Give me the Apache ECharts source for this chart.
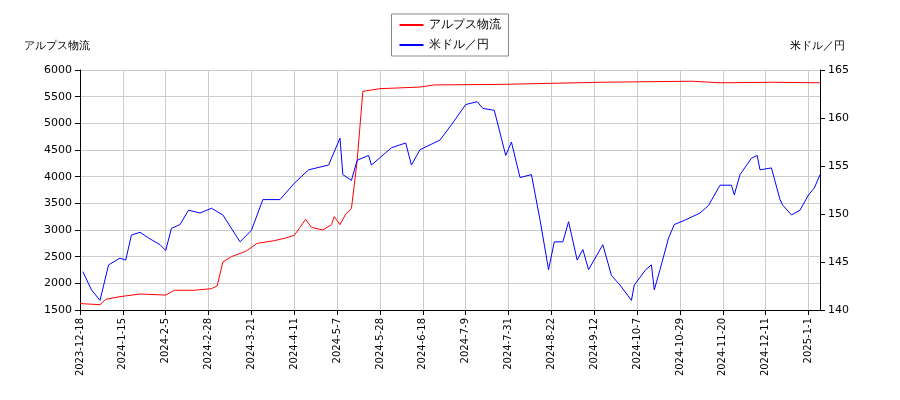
<!DOCTYPE html><html><head><meta charset="utf-8">
<script src="https://cdn.jsdelivr.net/npm/echarts@6/dist/echarts.min.js"></script>
<style>body{margin:0}#c{width:900px;height:400px}</style></head><body><div id="c"></div>
<script>
const startDate = '2023-12-18';
const marketHolidays = ['2024-01-01','2024-01-02','2024-01-03','2024-01-08','2024-02-12','2024-02-23','2024-03-20','2024-04-29','2024-05-03','2024-05-06','2024-07-15','2024-08-12','2024-09-16','2024-09-23','2024-10-14','2024-11-04','2024-11-04','2024-11-04','2023-12-29','2023-12-30'];
const extraHolidays = ['2023-12-31','2024-11-04'];
const alpsIdx = [0,7,9,14,21,30,33,40,46,48,50,53,58,62,68,72,75,77,79,81,85,88,89,91,93,95,97,99,105,119,124,147,165,182,214,224,242,259];
const alpsVals = [1620,1600,1700,1750,1800,1780,1870,1870,1900,1950,2400,2500,2600,2750,2800,2850,2900,3050,3200,3050,3000,3100,3250,3100,3300,3400,4300,5600,5650,5680,5720,5730,5750,5770,5790,5760,5770,5760];
const usdIdx = [1,4,7,10,14,16,18,21,24,28,30,32,35,38,42,46,50,56,60,64,70,75,80,87,91,92,95,97,101,102,109,114,116,119,126,130,135,139,141,145,149,151,154,158,161,164,166,169,171,174,176,178,183,186,189,193,194,198,200,201,203,206,208,212,217,220,224,228,229,231,235,237,238,242,245,246,249,252,255,257,259];
const usdVals = [144.0,142.1,141.0,144.7,145.4,145.2,147.8,148.1,147.5,146.8,146.2,148.5,148.9,150.4,150.1,150.6,149.9,147.1,148.3,151.5,151.5,153.2,154.6,155.1,157.9,154.1,153.5,155.6,156.1,155.1,156.9,157.4,155.1,156.7,157.7,159.3,161.4,161.7,161.0,160.8,156.1,157.5,153.8,154.1,149.4,144.2,147.1,147.1,149.2,145.2,146.3,144.2,146.8,143.6,142.6,141.0,142.6,144.2,144.7,142.1,144.2,147.5,148.9,149.4,150.1,150.9,153.0,153.0,152.0,154.1,155.8,156.1,154.6,154.8,151.5,150.9,149.9,150.4,152.0,152.7,154.1];
// trading calendar
const hol = new Set(marketHolidays.concat(extraHolidays));
const tradingDays = [];
for (let t = Date.parse(startDate+'T00:00:00Z'); tradingDays.length < 300; t += 86400000) {
  const d = new Date(t), wd = d.getUTCDay();
  const iso = d.toISOString().slice(0,10);
  if (wd === 0 || wd === 6 || hol.has(iso)) continue;
  tradingDays.push(d.getUTCFullYear()+'-'+(d.getUTCMonth()+1)+'-'+d.getUTCDate());
}
const ch = echarts.init(document.getElementById('c'));
ch.setOption({
  animation:false,
  textStyle:{fontFamily:'DejaVu Sans'},
  legend:{top:14,left:'center',orient:'vertical',itemWidth:24,itemHeight:2,borderColor:'#888',borderWidth:1,padding:[5,8],textStyle:{fontSize:12,color:'#000'},
    data:[{name:'アルプス物流',icon:'rect'},{name:'米ドル／円',icon:'rect'}]},
  grid:{left:80,right:80,top:70,bottom:90},
  xAxis:{type:'value',min:0,max:259,interval:15,
    axisLabel:{rotate:90,formatter:v=>tradingDays[v],fontSize:10,color:'#000',showMaxLabel:false},
    axisLine:{lineStyle:{color:'#000'}},axisTick:{lineStyle:{color:'#000'}},
    splitLine:{lineStyle:{color:'#ccc'}}},
  yAxis:[{type:'value',min:1500,max:6000,interval:500,name:'アルプス物流',nameLocation:'end',nameGap:18,
      nameTextStyle:{align:'right',color:'#000',fontSize:11,padding:[0,-10,0,0]},
      axisLabel:{color:'#000',fontSize:11,formatter:v=>String(v)},axisLine:{show:true,lineStyle:{color:'#000'}},axisTick:{show:true},
      splitLine:{lineStyle:{color:'#ccc'}}},
    {type:'value',min:140,max:165,interval:5,name:'米ドル／円',nameLocation:'end',nameGap:18,
      nameTextStyle:{align:'left',color:'#000',fontSize:11,padding:[0,0,0,-30]},
      axisLabel:{color:'#000',fontSize:11},axisLine:{show:true,lineStyle:{color:'#000'}},axisTick:{show:true},
      splitLine:{show:false}}],
  series:[
    {name:'アルプス物流',type:'line',yAxisIndex:0,showSymbol:false,color:'#ff0000',lineStyle:{width:1},
      data:alpsIdx.map((d,i)=>[d,alpsVals[i]])},
    {name:'米ドル／円',type:'line',yAxisIndex:1,showSymbol:false,color:'#0000ff',lineStyle:{width:1},
      data:usdIdx.map((d,i)=>[d,usdVals[i]])}
  ]
});
</script></body></html>
